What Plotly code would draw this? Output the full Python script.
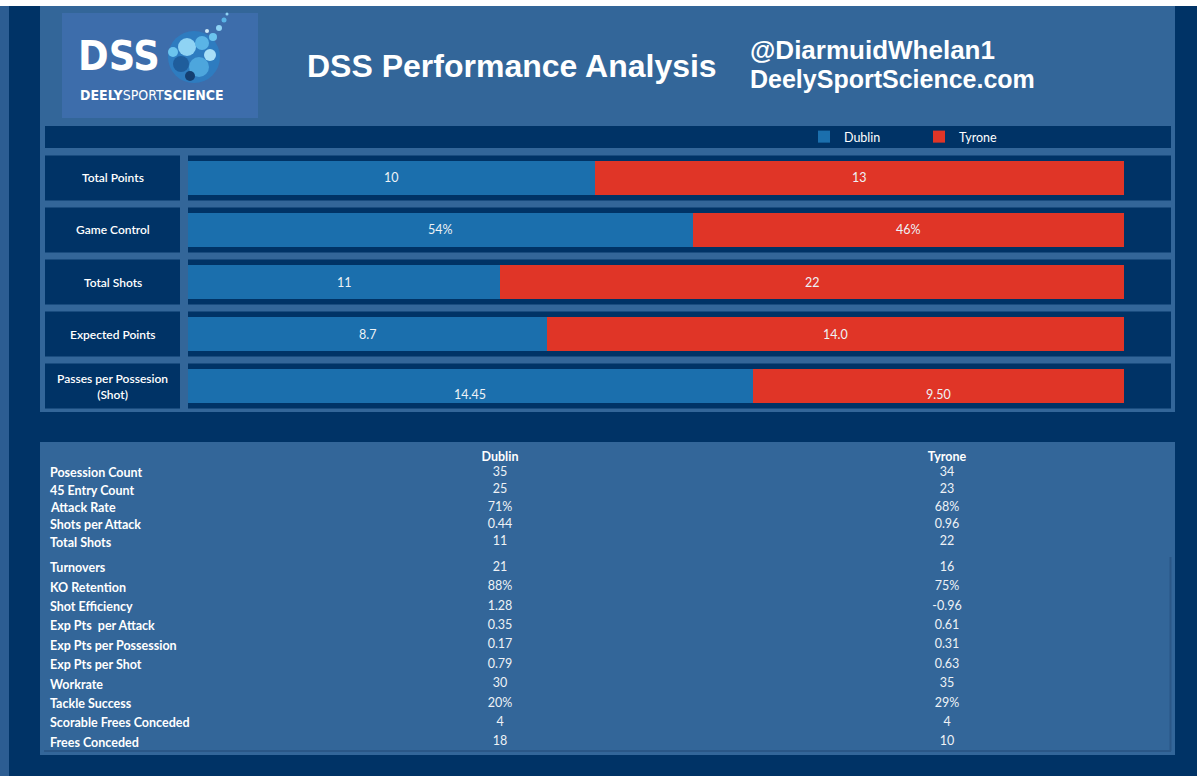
import plotly.graph_objects as go

# ---------------- data ----------------
teams = ["Dublin", "Tyrone"]
bar_metrics = ["Total Points", "Game Control", "Total Shots", "Expected Points", "Passes per Possesion (Shot)"]
dublin_bar = [10, 54, 11, 8.7, 14.45]
tyrone_bar = [13, 46, 22, 14.0, 9.50]
dublin_bar_text = ["10", "54%", "11", "8.7", "14.45"]
tyrone_bar_text = ["13", "46%", "22", "14.0", "9.50"]

table1_metrics = ["Posession Count", "45 Entry Count", "Attack Rate", "Shots per Attack", "Total Shots"]
table1_dublin = ["35", "25", "71%", "0.44", "11"]
table1_tyrone = ["34", "23", "68%", "0.96", "22"]

table2_metrics = ["Turnovers", "KO Retention", "Shot Efficiency", "Exp Pts  per Attack",
                  "Exp Pts per Possession", "Exp Pts per Shot", "Workrate", "Tackle Success",
                  "Scorable Frees Conceded", "Frees Conceded"]
table2_dublin = ["21", "88%", "1.28", "0.35", "0.17", "0.79", "30", "20%", "4", "18"]
table2_tyrone = ["16", "75%", "-0.96", "0.61", "0.31", "0.63", "35", "29%", "4", "10"]

# ---------------- style ----------------
W, H = 1197, 776
NAVY = "#003366"
PANEL = "#336699"
BLUE = "#1b6fad"
RED = "#e03527"
FONT = "Lato, 'Open Sans', sans-serif"
TXT = "#eef2f6"
LOGO_FONT = "'Liberation Sans Narrow', 'DejaVu Sans Condensed', sans-serif"
HEAD_FONT = "'Liberation Sans', Arial, sans-serif"


def px(x):
    return x / W


def py(y):
    return 1 - y / H


def rect(x0, y0, x1, y1, color):
    return dict(type="rect", xref="paper", yref="paper", x0=px(x0), x1=px(x1),
                y0=py(y1), y1=py(y0), fillcolor=color, line_width=0, layer="below")


def circ(cx, cy, r, color):
    return dict(type="circle", xref="paper", yref="paper", x0=px(cx - r), x1=px(cx + r),
                y0=py(cy + r), y1=py(cy - r), fillcolor=color, line_width=0, layer="below")


fig = go.Figure()

# ---- stacked 100% bars ----
fig.add_trace(go.Bar(y=bar_metrics, x=dublin_bar, name=teams[0], orientation="h",
                     marker=dict(color=BLUE, line_width=0), hoverinfo="skip"))
fig.add_trace(go.Bar(y=bar_metrics, x=tyrone_bar, name=teams[1], orientation="h",
                     marker=dict(color=RED, line_width=0), hoverinfo="skip"))

# ---- table text ----
fig.add_trace(go.Scatter(x=[teams[0]] * len(table1_metrics) + [teams[1]] * len(table1_metrics),
                         y=table1_metrics * 2, text=table1_dublin + table1_tyrone,
                         mode="text", textfont=dict(family=FONT, size=12.5, color=TXT),
                         xaxis="x2", yaxis="y2", showlegend=False, hoverinfo="skip"))
fig.add_trace(go.Scatter(x=[teams[0]] * len(table2_metrics) + [teams[1]] * len(table2_metrics),
                         y=table2_metrics * 2, text=table2_dublin + table2_tyrone,
                         mode="text", textfont=dict(family=FONT, size=12.5, color=TXT),
                         xaxis="x2", yaxis="y3", showlegend=False, hoverinfo="skip"))

shapes = [
    rect(0, 0, W, 6, "white"),
    rect(0, 6, 9, H, "#2c5d92"),
    rect(40, 6, 1175, 412, PANEL),
    rect(40, 442, 1175, 755, PANEL),
    rect(45, 126, 1171, 148, NAVY),
    rect(62, 13, 258, 118, "#3d6dab"),
]
# row boxes (label box + bar track) positioned on the bar y axis
for i in range(len(bar_metrics)):
    shapes.append(dict(type="rect", xref="paper", yref="y", x0=px(45), x1=px(180),
                       y0=i - 0.435, y1=i + 0.435, fillcolor=NAVY, line_width=0, layer="below"))
    shapes.append(dict(type="rect", xref="paper", yref="y", x0=px(188), x1=px(1171),
                       y0=i - 0.435, y1=i + 0.435, fillcolor=NAVY, line_width=0, layer="below"))
# inner border lines of table
shapes.append(dict(type="line", xref="paper", yref="paper", x0=px(1170.5), x1=px(1170.5),
                   y0=py(557), y1=py(751), line=dict(color="#2a5787", width=2), layer="below"))
shapes.append(dict(type="line", xref="paper", yref="paper", x0=px(44), x1=px(1171),
                   y0=py(751), y1=py(751), line=dict(color="#2a5787", width=2), layer="below"))
# logo globe
for c in [(194, 57, 26, "#2e7cc0"), (187, 47, 9, "#8fd3f4"), (202, 43, 7, "#5ab4e6"),
          (181, 64, 8, "#1f5d9c"), (199, 67, 10, "#4da6dd"), (210, 55, 6, "#a8e0f7"),
          (190, 76, 5, "#143f72"), (173, 52, 5, "#6cc4ee"), (213, 37, 4, "#6cc4ee"),
          (219, 28, 3, "#8fd3f4"), (224, 20, 2.5, "#5ab4e6"), (207, 31, 2, "#cfeaf8"),
          (227, 14, 1.5, "#8fd3f4")]:
    shapes.append(circ(*c))

annotations = []
# header texts
annotations.append(dict(text="<b>DSS Performance Analysis</b>", xref="paper", yref="paper",
                        x=px(512), y=py(66), xanchor="center", yanchor="middle", showarrow=False,
                        font=dict(family=HEAD_FONT, size=32, color="white")))
annotations.append(dict(text="<b>@DiarmuidWhelan1</b>", xref="paper", yref="paper",
                        x=px(748), y=py(50), xanchor="left", yanchor="middle", showarrow=False,
                        font=dict(family=HEAD_FONT, size=26, color="white")))
annotations.append(dict(text="<b>DeelySportScience.com</b>", xref="paper", yref="paper",
                        x=px(748), y=py(79), xanchor="left", yanchor="middle", showarrow=False,
                        font=dict(family=HEAD_FONT, size=25, color="white")))
# logo text
annotations.append(dict(text="<b>DSS</b>", xref="paper", yref="paper", x=px(119), y=py(56),
                        xanchor="center", yanchor="middle", showarrow=False,
                        font=dict(family=LOGO_FONT, size=41, color="white")))
annotations.append(dict(text="<b>DEELY</b>SPORT<b>SCIENCE</b>", xref="paper", yref="paper",
                        x=px(152), y=py(95), xanchor="center", yanchor="middle", showarrow=False,
                        font=dict(family=LOGO_FONT, size=14, color="white")))

# bar row labels and segment values
for i, m in enumerate(bar_metrics):
    lab = m.replace(" (", "<br>(")
    annotations.append(dict(text=lab, xref="paper", yref="y", x=px(112.5), y=m,
                            xanchor="center", yanchor="middle", showarrow=False,
                            font=dict(family=FONT, size=12, color="white", weight=600)))
    tot = dublin_bar[i] + tyrone_bar[i]
    fd = dublin_bar[i] / tot
    shift = -8 if i == len(bar_metrics) - 1 else 0
    annotations.append(dict(text=dublin_bar_text[i], xref="x", yref="y", x=fd / 2, y=m,
                            showarrow=False, yshift=shift,
                            font=dict(family=FONT, size=12.5, color=TXT)))
    annotations.append(dict(text=tyrone_bar_text[i], xref="x", yref="y", x=fd + (1 - fd) / 2, y=m,
                            showarrow=False, yshift=shift,
                            font=dict(family=FONT, size=12.5, color=TXT)))

# table row labels
for m in table1_metrics:
    annotations.append(dict(text=m.replace("  ", "\u00a0 "), xref="paper", yref="y2", x=px(48), y=m,
                            xanchor="left", yanchor="middle", showarrow=False,
                            font=dict(family=FONT, size=12.5, color="white", weight="bold")))
for m in table2_metrics:
    annotations.append(dict(text=m.replace("  ", "\u00a0 "), xref="paper", yref="y3", x=px(48), y=m,
                            xanchor="left", yanchor="middle", showarrow=False,
                            font=dict(family=FONT, size=12.5, color="white", weight="bold")))

fig.update_layout(
    width=W, height=H, autosize=False,
    margin=dict(l=0, r=0, t=0, b=0),
    paper_bgcolor=NAVY, plot_bgcolor="rgba(0,0,0,0)",
    barmode="stack", barnorm="fraction", bargap=0.346,
    shapes=shapes, annotations=annotations,
    showlegend=True,
    legend=dict(orientation="h", x=px(804), xanchor="left", y=py(137), yanchor="middle",
                bgcolor="rgba(0,0,0,0)", font=dict(family=FONT, size=12.5, color="white"),
                itemwidth=30, entrywidth=70, traceorder="normal", itemclick=False,
                itemdoubleclick=False),
    xaxis=dict(domain=[px(188), px(1124)], range=[0, 1], visible=False, fixedrange=True),
    yaxis=dict(domain=[py(412), py(152)], type="category", categoryarray=bar_metrics,
               range=[len(bar_metrics) - 0.5, -0.5], visible=False, fixedrange=True),
    xaxis2=dict(domain=[px(44), px(1170)], type="category", categoryarray=teams,
                range=[-(500 - 44) / 447, (1170 - 500) / 447], anchor="y2", side="top",
                showgrid=False, zeroline=False, showline=False, ticks="",
                tickfont=dict(family=FONT, size=12.5, color="white", weight="bold"), fixedrange=True),
    yaxis2=dict(domain=[py(551), py(464)], type="category", categoryarray=table1_metrics,
                range=[len(table1_metrics) - 0.5, -0.5], visible=False, anchor="x2", fixedrange=True),
    yaxis3=dict(domain=[py(752), py(558)], type="category", categoryarray=table2_metrics,
                range=[len(table2_metrics) - 0.5, -0.5], visible=False, anchor="x2", fixedrange=True),
)

fig.write_html("out.html", config={"displayModeBar": False},
               post_script="document.body.style.margin='0px';document.body.style.overflow='hidden';")
